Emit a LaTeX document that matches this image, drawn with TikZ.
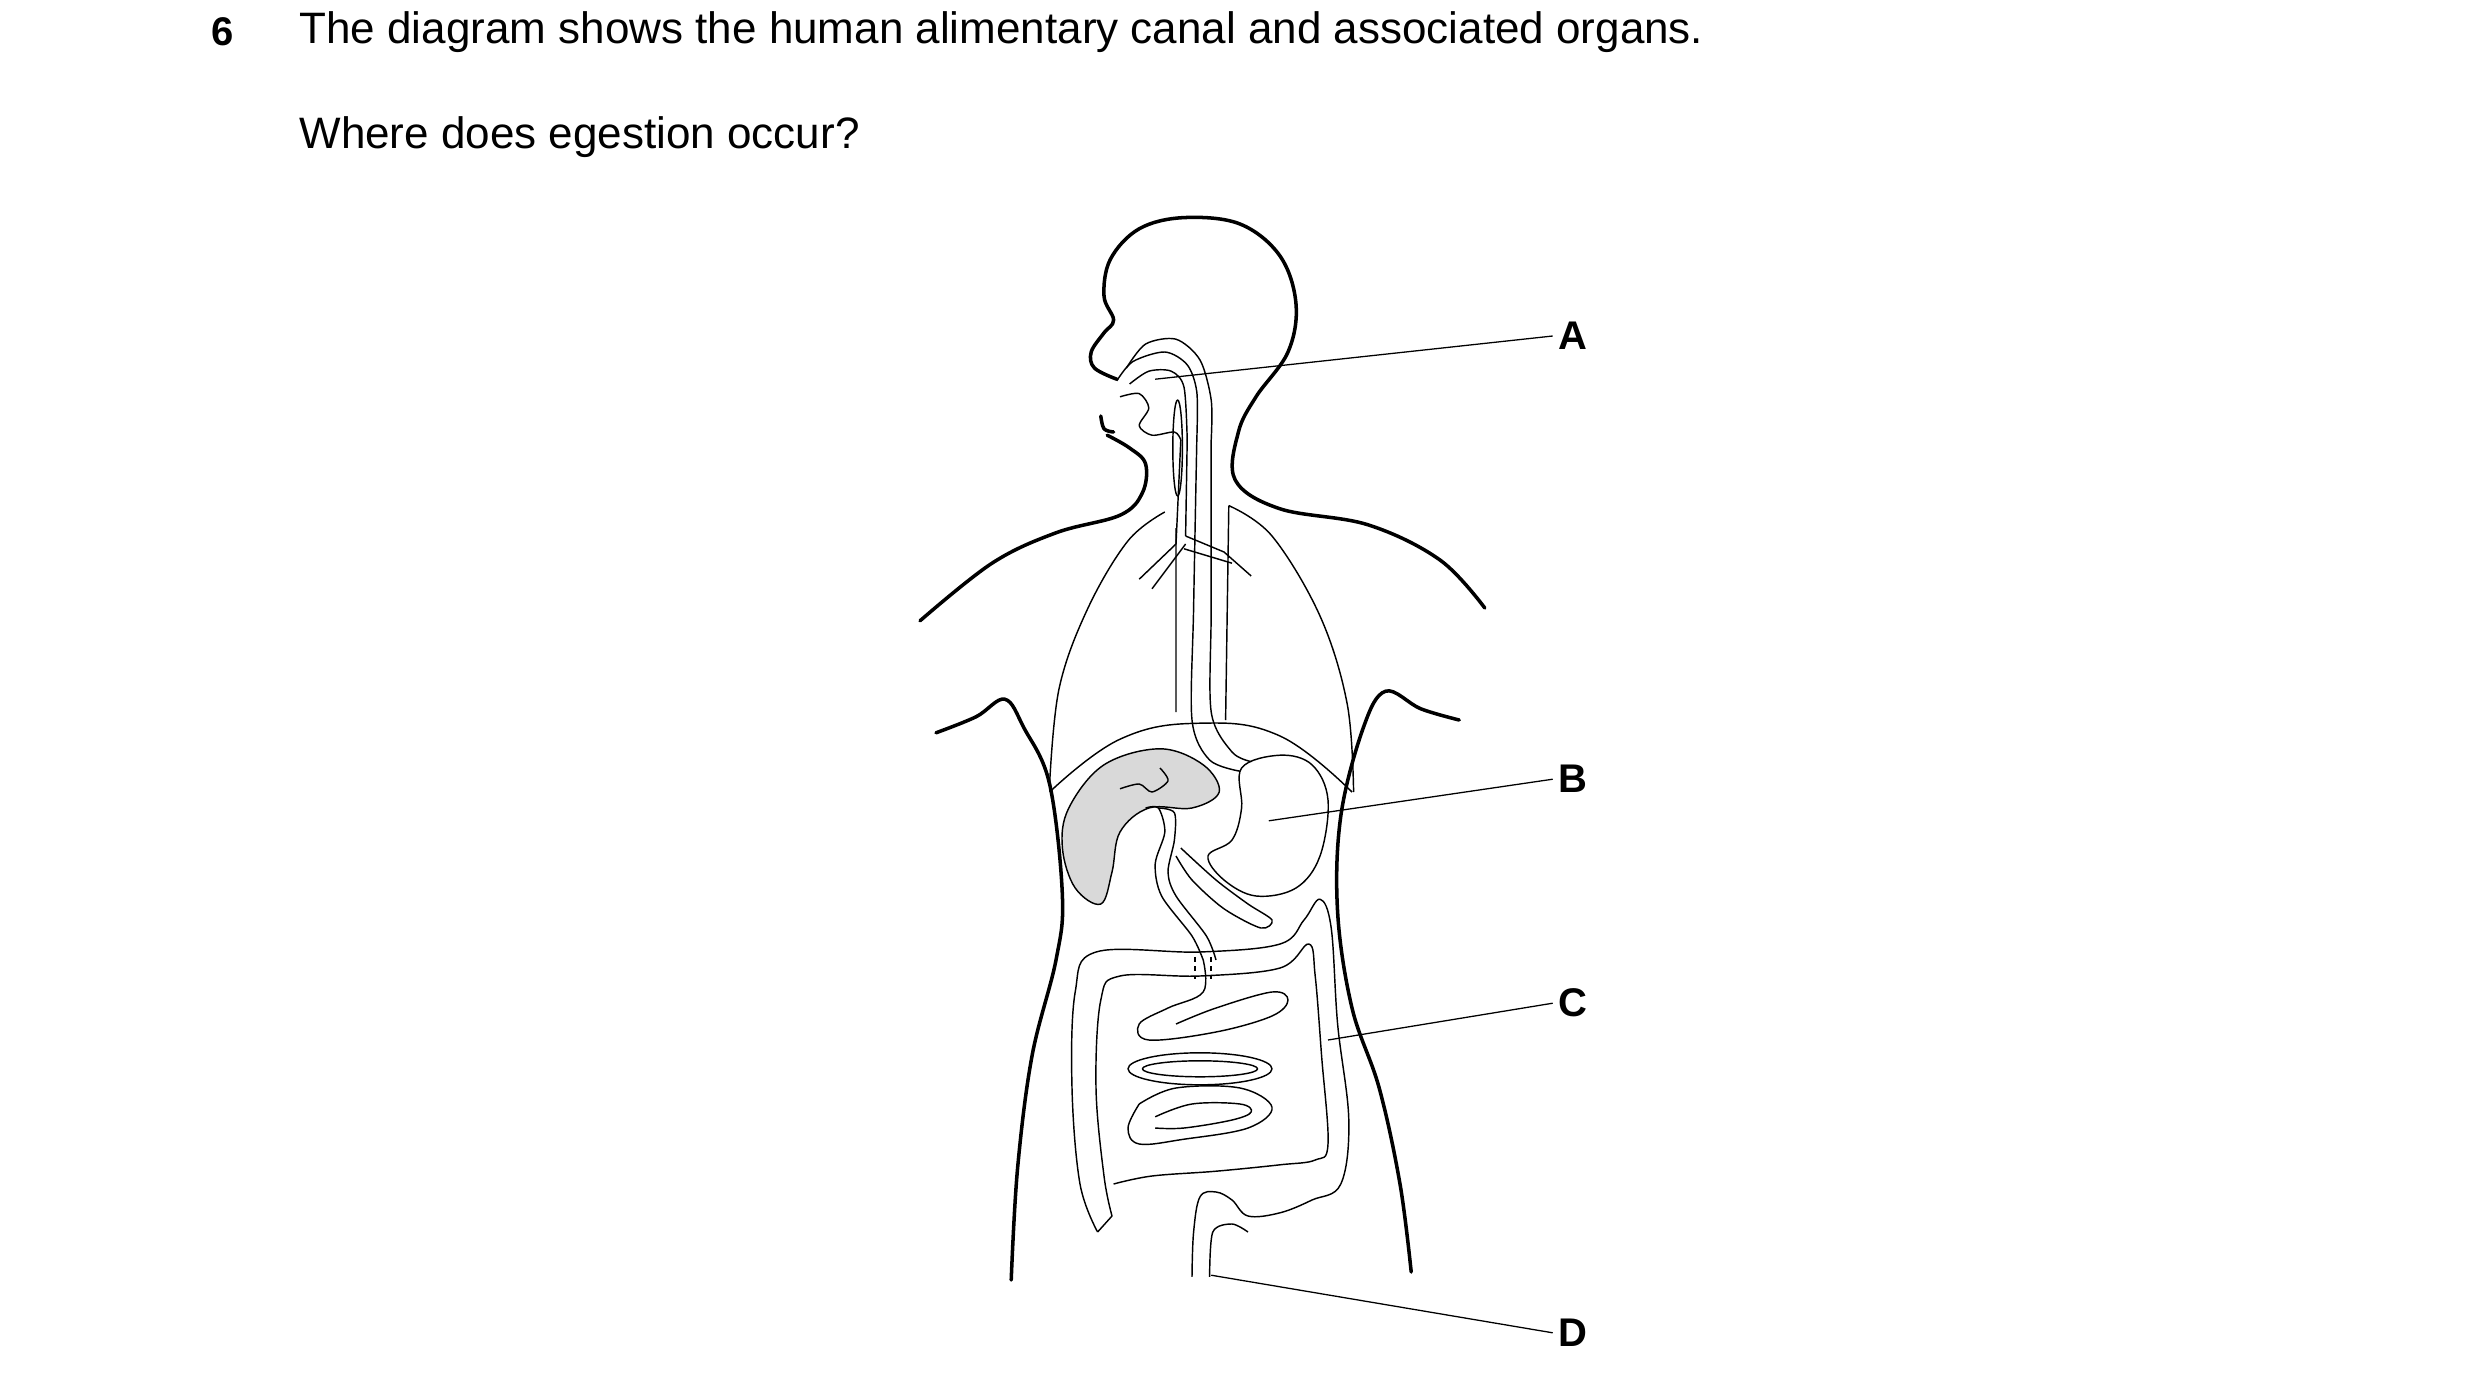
\documentclass[tikz,border=0pt]{standalone}
\usepackage{fontspec}
\setmainfont{Liberation Sans}
\begin{document}
\begin{tikzpicture}[x=1pt,y=-1pt,
  body/.style={line width=2.2pt,line join=round,line cap=round},
  organ/.style={line width=0.9pt,line join=round},
  lead/.style={line width=0.8pt},
  lab/.style={font=\bfseries\fontsize{25}{30}\selectfont},
  txt/.style={font=\fontsize{27.5}{32}\selectfont,anchor=west}]
\useasboundingbox (0,0) rectangle (1550,859);
\node[lab] (q) at (139,20) {6};
\node[txt,inner sep=0pt] (t1) at (187,20) {The diagram shows the human alimentary canal and associated organs.};
\node[txt,inner sep=0pt] (t2) at (187,86) {Where does egestion occur?};
% body outline
\draw[body] plot[smooth,tension=0.6] coordinates {(575,388) (620,352) (660,333) (700,322) (714,308) (716,290) (706,280) (692,272)};
\draw[body] plot[smooth,tension=0.6] coordinates {(688,260) (690,268) (696,270)};
\draw[body] plot[smooth,tension=0.6] coordinates {(698,237) (684,230) (682,220) (690,208) (696,200) (690,185) (694,162) (712,143) (740,136) (775,140) (800,160) (810,190) (805,220) (785,248) (774,270) (772,300) (800,318) (855,328) (900,350) (928,380)};
\draw[body] plot[smooth,tension=0.6] coordinates {(585,458) (610,448) (628,437) (640,455) (656,490) (664,560) (660,600) (645,660) (636,730) (632,800)};
\draw[body] plot[smooth,tension=0.6] coordinates {(912,450) (888,443) (866,432) (852,455) (838,510) (836,570) (845,630) (862,680) (875,740) (882,795)};
% mouth/ nasal
\draw[organ] plot[smooth] coordinates {(698,238) (708,226) (728,220) (742,228) (748,245) (748,275)};
\draw[organ] plot[smooth] coordinates {(706,240) (718,232) (732,232) (740,242) (742,275)};
\draw[organ] plot[smooth] coordinates {(700,248) (712,246) (718,255) (712,266) (720,272) (734,270) (738,275)};
\draw[organ] plot[smooth] coordinates {(704,230) (716,215) (735,212) (750,225) (757,250) (757,275)};
% trachea & oesophagus
\draw[organ] (738,275) -- (735,340);
\draw[organ] (742,275) -- (741,335);
\draw[organ] (736,280) ellipse (3 and 30);
\draw[organ] plot[smooth] coordinates {(748,275) (746,380) (745,450) (756,475) (775,482)};
\draw[organ] plot[smooth] coordinates {(757,275) (757,380) (757,445) (770,470) (782,476)};
% bronchi
\draw[organ] (735,340) -- (712,362) (741,340) -- (720,368) (741,335) -- (765,345) -- (782,360) (740,343) -- (770,352);
% lungs
\draw[organ] plot[smooth,tension=0.6] coordinates {(728,320) (705,338) (680,380) (662,430) (656,490)};
\draw[organ] plot[smooth,tension=0.6] coordinates {(768,316) (795,335) (825,385) (842,440) (846,495)};
\draw[organ] (735,330) -- (735,445) (768,316) -- (766,450);
% diaphragm
\draw[organ] plot[smooth,tension=0.7] coordinates {(656,495) (700,462) (750,452) (800,460) (845,495)};
% liver
\draw[organ,fill=gray!30] plot[smooth cycle,tension=0.6] coordinates {(668,505) (690,478) (725,468) (752,478) (762,495) (745,505) (718,505) (700,520) (695,545) (688,565) (672,555) (664,530)};
\draw[organ] plot[smooth] coordinates {(700,493) (712,490) (720,495) (730,488) (725,480)};
\draw[organ] plot[smooth] coordinates {(716,505) (724,505) (728,520) (722,540) (726,560) (745,585) (752,600)};
\draw[organ] plot[smooth] coordinates {(724,505) (734,508) (734,525) (730,545) (735,560) (754,585) (760,600)};
% stomach
\draw[organ] plot[smooth cycle,tension=0.6] coordinates {(776,480) (800,472) (820,478) (830,500) (825,535) (810,555) (785,560) (765,550) (755,535) (770,525) (776,505)};
% pancreas
\draw[organ] plot[smooth] coordinates {(738,530) (760,550) (780,565) (795,575) (788,580) (765,568) (745,550) (735,535)};
% large intestine
\draw[organ] plot[smooth,tension=0.6] coordinates {(686,770) (675,740) (670,680) (672,620) (685,595) (750,595) (800,590) (815,575) (825,562) (832,580) (836,640) (843,700) (838,740) (820,750) (800,758) (780,760) (770,750) (760,745) (750,748) (746,770) (745,798)};
\draw[organ] plot[smooth,tension=0.6] coordinates {(695,760) (690,735) (685,680) (688,625) (700,610) (750,610) (800,605) (818,590) (822,610) (826,660) (830,715) (822,725) (800,728) (760,732) (720,735) (696,740)};
\draw[organ] (686,770) -- (695,760);
\draw[organ] plot[smooth] coordinates {(756,798) (758,770) (770,765) (780,770)};
% small intestine coils
\draw[organ] plot[smooth,tension=0.6] coordinates {(752,600) (752,620) (730,630) (712,640) (718,650) (760,645) (795,635) (805,625) (795,620) (760,630) (735,640)};
\draw[organ] (750,668) ellipse (45 and 10);
\draw[organ] (750,668) ellipse (36 and 5);
\draw[organ] plot[smooth,tension=0.6] coordinates {(712,690) (735,680) (775,680) (795,692) (780,705) (740,712) (712,715) (705,705) (712,690)};
\draw[organ] plot[smooth,tension=0.6] coordinates {(722,698) (745,690) (775,690) (782,695) (770,700) (740,705) (722,705)};
\draw[organ,dashed] (747,598) -- (747,612) (757,598) -- (757,612);
% labels
\node[lab] (A) at (983,210) {A};
\node[lab] (B) at (983,487) {B};
\node[lab] (C) at (983,627) {C};
\node[lab] (D) at (983,833) {D};
\coordinate (a) at (722,237);
\coordinate (b) at (793,513);
\coordinate (c) at (830,650);
\coordinate (d) at (757,797);
\draw[lead] (A.west) -- (a);
\draw[lead] (B.west) -- (b);
\draw[lead] (C.west) -- (c);
\draw[lead] (D.west) -- (d);
\end{tikzpicture}
\end{document}
